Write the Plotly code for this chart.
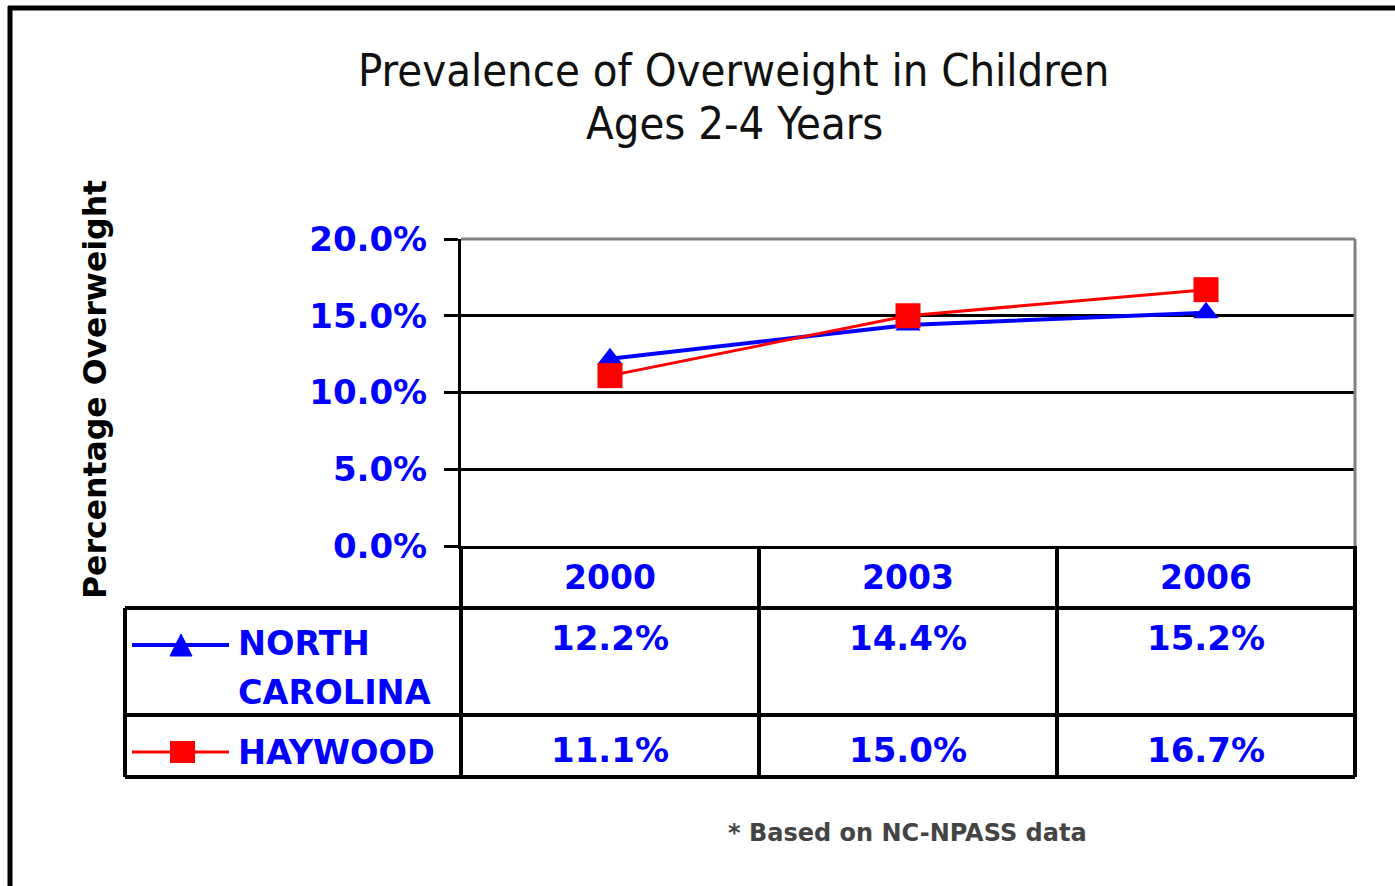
import plotly.graph_objects as go

# ---------------- data ----------------
years = ["2000", "2003", "2006"]
north_carolina = [0.122, 0.144, 0.152]
haywood = [0.111, 0.150, 0.167]
series_names = ["NORTH\nCAROLINA", "HAYWOOD"]
y_ticks = [0.0, 0.05, 0.10, 0.15, 0.20]

title_line1 = "Prevalence of Overweight in Children"
title_line2 = "Ages 2-4 Years"
y_title = "Percentage Overweight"
footnote = "* Based on NC-NPASS data"

# ---------------- layout helpers ----------------
W, H = 1395, 886
def px(x):
    return x / W
def py(y):
    return 1 - y / H

BLUE = "#0000FF"
RED = "#FF0000"
LABEL_FONT = "DejaVu Sans"
TITLE_FONT = "Liberation Sans Narrow, DejaVu Sans Condensed, Liberation Sans"

xs = list(range(len(years)))

fig = go.Figure()
fig.add_trace(go.Scatter(
    x=xs, y=north_carolina, mode="lines+markers", name="NORTH CAROLINA",
    line=dict(color=BLUE, width=4),
    marker=dict(symbol="triangle-up", size=22, color=BLUE),
    showlegend=False, cliponaxis=False,
))
fig.add_trace(go.Scatter(
    x=xs, y=haywood, mode="lines+markers", name="HAYWOOD",
    line=dict(color=RED, width=3),
    marker=dict(symbol="square", size=25, color=RED),
    showlegend=False, cliponaxis=False,
))

shapes = []
def line(x0, y0, x1, y1, color="black", width=4, xref="paper", yref="paper"):
    shapes.append(dict(type="line", x0=x0, y0=y0, x1=x1, y1=y1, xref=xref, yref=yref,
                       line=dict(color=color, width=width)))

# plot area top & right border (gray)
line(0, 1, 1, 1, color="#808080", width=3, xref="x domain", yref="y domain")
line(1, 0, 1, 1, color="#808080", width=3, xref="x domain", yref="y domain")

# data table grid
table_left, table_right = 125, 1355
for yy in (608, 715, 777):
    line(px(table_left), py(yy), px(table_right), py(yy))
line(px(table_left), py(608), px(table_left), py(777))
line(px(461), py(546), px(461), py(777))
line(px(table_right), py(546), px(table_right), py(777))
for b in (0.5, 1.5):
    line(b, py(546), b, py(777), xref="x")

# outer chart frame
line(px(8), py(8), px(W), py(8), width=5)
line(px(10), py(6), px(10), py(H), width=5)

# legend keys inside table
line(px(132), py(645), px(229), py(645), color=BLUE, width=4)
shapes.append(dict(type="path", xref="paper", yref="paper",
                   path=f"M {px(170)} {py(656)} L {px(192)} {py(656)} L {px(181)} {py(634)} Z",
                   fillcolor=BLUE, line=dict(color=BLUE, width=1)))
line(px(132), py(752), px(229), py(752), color=RED, width=3)
shapes.append(dict(type="rect", xref="paper", yref="paper",
                   x0=px(170), x1=px(195), y0=py(741), y1=py(763),
                   fillcolor=RED, line=dict(color=RED, width=0)))

annotations = []
def text(t, x, y, size=33, color=BLUE, xanchor="center", xref="paper", bold=True, font=LABEL_FONT, angle=0):
    annotations.append(dict(text=f"<b>{t}</b>" if bold else t, x=x, y=y, xref=xref, yref="paper",
                            xanchor=xanchor, yanchor="middle", showarrow=False, textangle=angle,
                            font=dict(family=font, size=size, color=color)))

# titles
text(title_line1, px(734), py(70), size=45, color="#111111", font=TITLE_FONT, bold=False)
text(title_line2, px(734), py(123), size=45, color="#111111", font=TITLE_FONT, bold=False)
text(y_title, px(95), py(390), size=31.5, color="black", angle=-90)

# table header (years) and values
for i, yr in enumerate(years):
    text(yr, i, py(577), xref="x")
    text(f"{north_carolina[i]*100:.1f}%", i, py(638), xref="x", size=34)
    text(f"{haywood[i]*100:.1f}%", i, py(750), xref="x", size=34)

# series labels
nc_lines = series_names[0].split("\n")
text(nc_lines[0], px(236), py(643), xanchor="left", size=33.5)
text(nc_lines[1], px(236), py(692), xanchor="left", size=33.5)
text(series_names[1], px(236), py(752), xanchor="left", size=33.5)

# footnote
text(footnote, px(907), py(833), size=24, color="#444444")

fig.update_layout(
    width=W, height=H,
    margin=dict(l=0, r=0, t=0, b=0, pad=0),
    paper_bgcolor="white", plot_bgcolor="white",
    shapes=shapes, annotations=annotations,
    xaxis=dict(domain=[px(461), px(1355)], range=[-0.5, 2.5], showticklabels=False,
               showgrid=False, zeroline=False, showline=True, linecolor="black", linewidth=3,
               ticks="", automargin=False),
    yaxis=dict(domain=[py(546), py(239)], range=[0, 0.2], tickvals=y_ticks, tickformat=".1%",
               showgrid=True, gridcolor="black", gridwidth=3, zeroline=False,
               showline=True, linecolor="black", linewidth=3,
               ticks="outside", ticklen=14, tickwidth=3, tickcolor="black",
               ticklabelstandoff=10, automargin=False,
               tickfont=dict(family=LABEL_FONT, size=34, color=BLUE, weight="bold")),
)

fig.write_html(
    "out.html",
    config={"displayModeBar": False},
    post_script="document.body.style.margin='0';document.body.style.overflow='hidden';",
)
